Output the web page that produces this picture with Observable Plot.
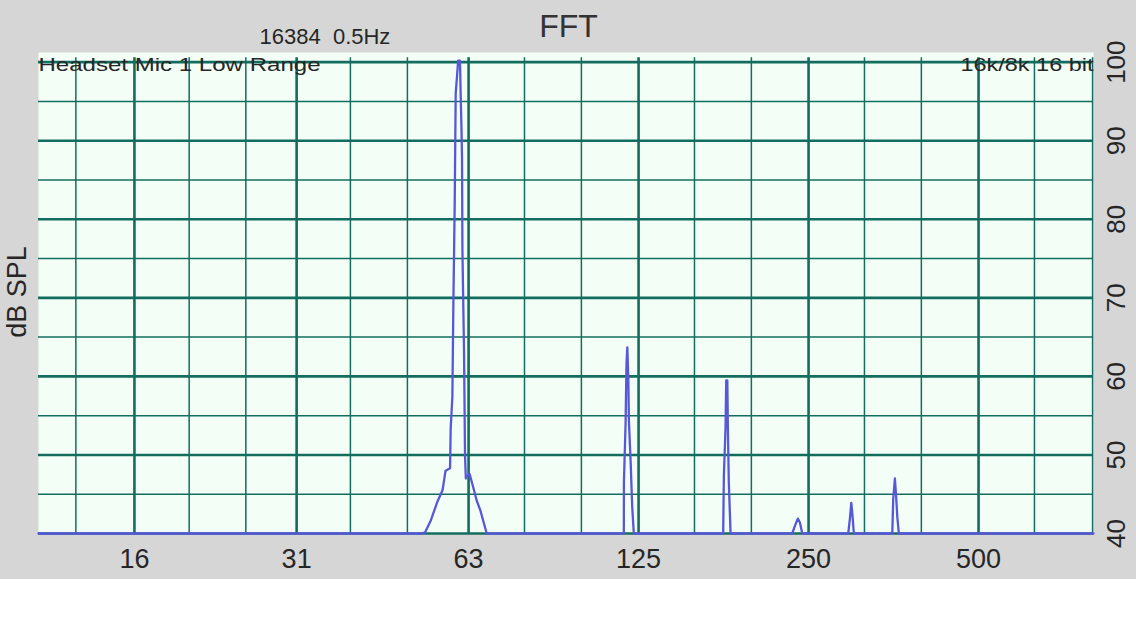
<!DOCTYPE html>
<html>
<head>
<meta charset="utf-8">
<script src="https://cdn.jsdelivr.net/npm/d3@7"></script>
<script src="https://cdn.jsdelivr.net/npm/@observablehq/plot@0.6"></script>
<style>
html, body { margin: 0; padding: 0; background: #ffffff; }
#chart svg { display: block; }
</style>
</head>
<body>
<div id="chart"></div>
<script>
// ---- texts ----
const title = "FFT";
const fftInfo = "16384  0.5Hz";
const deviceLabel = "Headset Mic 1 Low Range";
const formatLabel = "16k/8k 16 bit";
const yLabel = "dB SPL";

// ---- ticks / grid ----
const xMajorTicks = [16, 31, 62.5, 125, 250, 500];
const xTickLabels = ["16", "31", "63", "125", "250", "500"];
const xMinorTicks = [12.6, 20, 25.2, 38.6, 48.7, 78.5, 99, 157, 198, 314, 396, 628, 796];
const yMajorTicks = [40, 50, 60, 70, 80, 90, 100];
const yTickLabels = ["40", "50", "60", "70", "80", "90", "100"];
const yMinorTicks = [45, 55, 65, 75, 85, 95];
const xDomain = [10.82, 799];
const yDomain = [40, 101.23];

// ---- spectrum (Hz, dB SPL) ----
const freqHz = [
  10.82,
  51.4, 52.3, 53.6, 55.0, 56.2, 56.9, 57.95, 58.1, 58.5, 58.75, 59.06, 59.3, 59.9,
  60.35, 60.5, 60.7, 60.85, 60.95, 61.35, 61.6, 61.8, 62.75, 63.9, 64.6, 65.6, 67.3,
  117.7, 117.75, 118.55, 119.0, 119.4, 119.9, 120.15, 121.0, 121.8, 122.6,
  176.5, 177.0, 178.2, 178.7, 179.5, 179.9, 180.6, 181.9,
  233.9, 237.1, 239.3, 241.3, 243.7,
  293.9, 295.9, 297.6, 299.2, 300.7,
  351.7, 353.1, 355.5, 357.5, 359.0, 361.3,
  799
];
const levelDb = [
  40,
  40, 40.1, 41.7, 44.0, 45.5, 48.0, 48.3, 53.4, 57.4, 69.7, 82.0, 96.0, 100.2,
  100.2, 96.2, 91.9, 87.9, 76.0, 63.1, 49.9, 47.0, 47.6, 45.5, 44.2, 42.9, 40,
  40, 46.5, 54.0, 61.7, 63.7, 59.5, 54.4, 49.3, 43.4, 40,
  40, 47.4, 53.5, 59.5, 59.5, 53.5, 46.5, 40,
  40, 41.2, 41.9, 41.4, 40,
  40, 41.9, 43.9, 42.1, 40,
  40, 44.4, 47.0, 44.4, 42.1, 40,
  40
];

const spectrum = freqHz.map((f, i) => ({f, db: levelDb[i]}));

const gridColor = "#136d5e";
const lineColor = "#5757d9";
const textColor = "#262626";

const plot = Plot.plot({
  width: 1136,
  height: 579,
  marginLeft: 38,
  marginRight: 43,
  marginTop: 52,
  marginBottom: 46,
  style: "background:#d6d6d6;font-family:'Liberation Sans',Arial,sans-serif;",
  x: {type: "log", domain: xDomain, axis: null},
  y: {type: "linear", domain: yDomain, axis: null},
  marks: [
    Plot.frame({fill: "#f3fff6", stroke: null}),
    Plot.ruleX(xMinorTicks, {x: d => d, y1: 100.55, y2: 40, stroke: gridColor, strokeWidth: 1.5}),
    Plot.ruleY(yMinorTicks, {y: d => d, stroke: gridColor, strokeWidth: 1.5}),
    Plot.ruleX(xMajorTicks, {x: d => d, y1: 100.55, y2: 40, stroke: gridColor, strokeWidth: 2.6}),
    Plot.ruleY(yMajorTicks, {y: d => d, stroke: gridColor, strokeWidth: 2.6}),
    Plot.line(spectrum, {x: "f", y: "db", stroke: lineColor, strokeWidth: 2.3, curve: "linear"}),
    Plot.text([deviceLabel], {text: d => d, frameAnchor: "top-left", dx: 0, dy: 5, textAnchor: "start", lineAnchor: "top", fontSize: 19, fill: textColor}),
    Plot.text([formatLabel], {text: d => d, frameAnchor: "top-right", dx: 0, dy: 5, textAnchor: "end", lineAnchor: "top", fontSize: 19, fill: textColor}),
    Plot.text([title], {text: d => d, frameAnchor: "top", dx: 2.5, dy: -38, textAnchor: "middle", lineAnchor: "top", fontSize: 32, fill: "#333"}),
    Plot.text([fftInfo], {text: d => d, frameAnchor: "top-left", dx: 221, dy: -24, textAnchor: "start", lineAnchor: "top", fontSize: 22, fill: textColor}),
    Plot.text([yLabel], {text: d => d, frameAnchor: "left", dx: -21, dy: -1, rotate: -90, textAnchor: "middle", lineAnchor: "middle", fontSize: 27, fill: textColor}),
    Plot.text(xMajorTicks, {x: d => d, text: (d, i) => xTickLabels[i], frameAnchor: "bottom", dy: 15, textAnchor: "middle", lineAnchor: "top", fontSize: 27, fill: textColor}),
    Plot.text(yMajorTicks, {y: d => d, text: (d, i) => yTickLabels[i], frameAnchor: "right", dx: 23, rotate: -90, textAnchor: "middle", lineAnchor: "middle", fontSize: 26, fill: textColor})
  ]
});

document.getElementById("chart").appendChild(plot);

// stretch the header labels to the widths seen in the reference
d3.select(plot).selectAll("text").each(function() {
  const t = this.textContent;
  if (t === deviceLabel) d3.select(this).attr("textLength", 282).attr("lengthAdjust", "spacingAndGlyphs");
  if (t === formatLabel) d3.select(this).attr("textLength", 133).attr("lengthAdjust", "spacingAndGlyphs");
});
</script>
</body>
</html>
